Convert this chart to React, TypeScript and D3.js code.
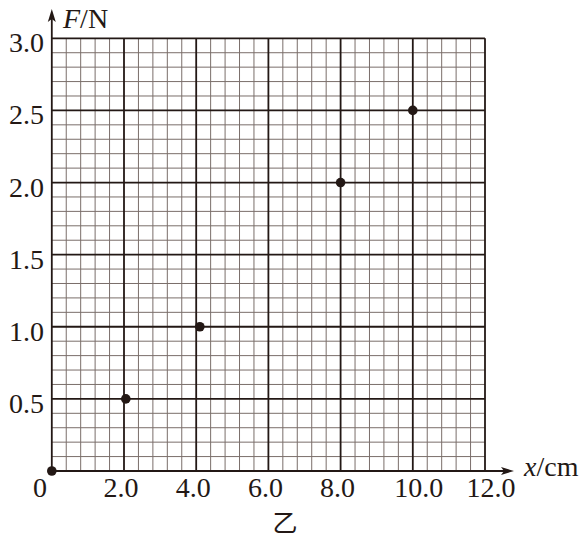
import { useEffect, useRef } from "react";
import * as d3 from "d3";

// measured points (x in cm, F in N)
const xValues = [0, 2.05, 4.1, 8.0, 10.0];
const fValues = [0, 0.5, 1.0, 2.0, 2.5];

const xTicks = [2, 4, 6, 8, 10, 12];
const xTickLabels = ["2.0", "4.0", "6.0", "8.0", "10.0", "12.0"];
const yTicks = [0.5, 1.0, 1.5, 2.0, 2.5, 3.0];
const yTickLabels = ["0.5", "1.0", "1.5", "2.0", "2.5", "3.0"];

const App = () => {
  const svgRef = useRef<SVGSVGElement>(null);

  useEffect(() => {
    if (!svgRef.current) return;
    d3.select(svgRef.current).selectAll("*").remove();

    const width = 585;
    const height = 539;
    const dark = "#231815";
    const minor = "#7a6e6a";
    const serif = "'Liberation Serif', 'Times New Roman', serif";

    const svg = d3.select(svgRef.current)
      .attr("width", width)
      .attr("height", height)
      .attr("viewBox", `0 0 ${width} ${height}`);

    svg.append("rect").attr("width", width).attr("height", height).attr("fill", "#fff");

    const x = d3.scaleLinear().domain([0, 12]).range([51.8, 485]);
    const y = d3.scaleLinear().domain([0, 3]).range([471, 38.3]);

    // minor grid: 0.4 cm by 0.1 N
    const minorX = d3.range(1, 30).map(i => i * 0.4).filter((_, i) => (i + 1) % 5 !== 0);
    const minorY = d3.range(1, 30).map(i => i * 0.1).filter((_, i) => (i + 1) % 5 !== 0);

    const grid = svg.append("g");
    grid.selectAll(".mx")
      .data(minorX)
      .join("line")
      .attr("x1", d => x(d)).attr("x2", d => x(d))
      .attr("y1", y(0)).attr("y2", y(3))
      .attr("stroke", minor).attr("stroke-width", 1);
    grid.selectAll(".my")
      .data(minorY)
      .join("line")
      .attr("y1", d => y(d)).attr("y2", d => y(d))
      .attr("x1", x(0)).attr("x2", x(12))
      .attr("stroke", minor).attr("stroke-width", 1);

    // major grid
    grid.selectAll(".Mx")
      .data(xTicks)
      .join("line")
      .attr("x1", d => x(d)).attr("x2", d => x(d))
      .attr("y1", y(0)).attr("y2", y(3))
      .attr("stroke", dark).attr("stroke-width", 1.8);
    grid.selectAll(".My")
      .data(yTicks)
      .join("line")
      .attr("y1", d => y(d)).attr("y2", d => y(d))
      .attr("x1", x(0)).attr("x2", x(12))
      .attr("stroke", dark).attr("stroke-width", 1.8);

    // axes with arrows
    svg.append("line")
      .attr("x1", x(0)).attr("x2", x(0))
      .attr("y1", y(0)).attr("y2", 16)
      .attr("stroke", dark).attr("stroke-width", 1.8);
    svg.append("path")
      .attr("d", `M ${x(0)},9 L ${x(0) - 4},22 L ${x(0)},19 L ${x(0) + 4},22 Z`)
      .attr("fill", dark);
    svg.append("line")
      .attr("x1", x(0)).attr("x2", 508)
      .attr("y1", y(0)).attr("y2", y(0))
      .attr("stroke", dark).attr("stroke-width", 1.8);
    svg.append("path")
      .attr("d", `M 514,${y(0)} L 501,${y(0) - 4} L 504,${y(0)} L 501,${y(0) + 4} Z`)
      .attr("fill", dark);

    // tick labels
    svg.selectAll(".yl")
      .data(yTicks)
      .join("text")
      .attr("x", 44)
      .attr("y", d => y(d) + 14)
      .attr("text-anchor", "end")
      .style("font-family", serif)
      .style("font-size", "28px")
      .style("fill", dark)
      .text((_, i) => yTickLabels[i]);

    svg.selectAll(".xl")
      .data(xTicks)
      .join("text")
      .attr("x", d => x(d) + (d >= 10 ? 6 : -3))
      .attr("y", 497)
      .attr("text-anchor", "middle")
      .style("font-family", serif)
      .style("font-size", "28px")
      .style("fill", dark)
      .text((_, i) => xTickLabels[i]);

    svg.append("text")
      .attr("x", 40).attr("y", 497)
      .attr("text-anchor", "middle")
      .style("font-family", serif)
      .style("font-size", "28px")
      .style("fill", dark)
      .text("0");

    // axis titles
    const fLabel = svg.append("text")
      .attr("x", 63).attr("y", 28)
      .style("font-family", serif)
      .style("font-size", "28px")
      .style("fill", dark);
    fLabel.append("tspan").style("font-style", "italic").text("F");
    fLabel.append("tspan").text("/N");

    const xLabel = svg.append("text")
      .attr("x", 524).attr("y", 476)
      .style("font-family", serif)
      .style("font-size", "28px")
      .style("fill", dark);
    xLabel.append("tspan").style("font-style", "italic").text("x");
    xLabel.append("tspan").text("/cm");

    svg.append("text")
      .attr("x", 285).attr("y", 532)
      .attr("text-anchor", "middle")
      .style("font-family", "'Noto Sans CJK SC', sans-serif")
      .style("font-size", "25px")
      .style("fill", dark)
      .text("乙");

    // data points
    svg.selectAll(".pt")
      .data(xValues.map((v, i) => ({ x: v, f: fValues[i] })))
      .join("circle")
      .attr("cx", d => x(d.x))
      .attr("cy", d => y(d.f))
      .attr("r", 4.8)
      .attr("fill", dark);
  }, []);

  return (
    <div style={{ position: "absolute", left: 0, top: 0 }}>
      <svg ref={svgRef} style={{ display: "block" }}></svg>
    </div>
  );
};

export default App;
